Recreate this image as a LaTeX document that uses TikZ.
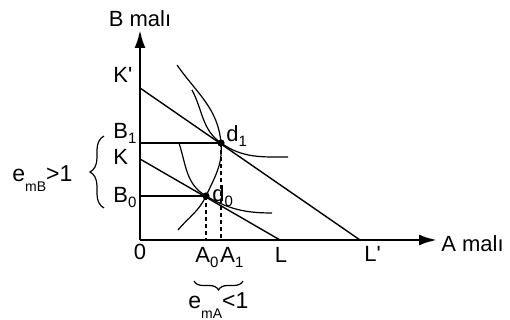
\documentclass[tikz,border=0pt]{standalone}
\usepackage{fontspec}
\setmainfont{Liberation Sans}
\usetikzlibrary{arrows.meta}
\usetikzlibrary{decorations.pathreplacing}
\newcommand{\sbs}[1]{\raisebox{-2.4pt}{\fontsize{7.5}{8}\selectfont #1}}
\newcommand{\esub}[1]{\raisebox{-4.6pt}{\fontsize{7}{8}\selectfont #1}}

\begin{document}
\begin{tikzpicture}[x=0.5pt,y=0.5pt,font=\fontsize{11}{12}\selectfont,
    axis/.style={line width=1.3pt,-{Latex[length=9pt,width=5.5pt]}},
    budget/.style={line width=0.7pt},
    level/.style={line width=1.1pt},
    curve/.style={line width=0.6pt},
    guide/.style={line width=0.6pt,dash pattern=on 2pt off 1.5pt},
    lab/.style={anchor=base west,inner sep=0pt},
    brc/.style={line width=0.6pt,decorate,decoration={brace,amplitude=#1}}]
    \useasboundingbox (0,0) rectangle (510,320);
    \coordinate (O) at (140,80);
    \coordinate (ytop) at (140,290);
    \coordinate (xend) at (437,80);
    \coordinate (Kp) at (140,232);
    \coordinate (K) at (140,161);
    \coordinate (Lp) at (360,80);
    \coordinate (L) at (280,80);
    \coordinate (B1) at (140,177);
    \coordinate (B0) at (140,124);
    \coordinate (d1) at (221,177);
    \coordinate (d0) at (206,124);
    \coordinate (A1) at (221,80);
    \coordinate (A0) at (206,80);
    \draw[axis] (O) -- (ytop);
    \draw[axis] (O) -- (xend);
    \node (ylab) at (140,301) {B malı};
    \node[lab] (xlab) at (441,68) {A malı};
    \draw[budget] (Kp) -- (Lp);
    \draw[budget] (K) -- (L);
    \draw[level] (B1) -- (d1);
    \draw[level] (B0) -- (d0);
    \draw[guide] (d1) -- (A1);
    \draw[guide] (d0) -- (A0);
    \draw[curve] (177,255) to[out=-55,in=95] (d1) to[out=-85,in=65] (d0) to[out=-115,in=50] (178,90);
    \draw[curve] (192,230) to[out=-62,in=145] (d1) to[out=-35,in=180] (288,163);
    \draw[curve] (179,177) to[out=-72,in=150] (d0) to[out=-30,in=180] (272,107);
    \fill (d1) circle (1.8pt);
    \fill (d0) circle (1.8pt);
    \node[lab] (d1lab) at (226,178) {d\sbs{1}};
    \node[lab] (d0lab) at (212,118) {d\sbs{0}};
    \node[lab] (Kplab) at (113,237) {K\textquotesingle};
    \node[lab] (B1lab) at (113,181) {B\sbs{1}};
    \node[lab] (Klab) at (113,155) {K};
    \node[lab] (B0lab) at (113,117) {B\sbs{0}};
    \node[anchor=base,inner sep=0pt] (Olab) at (140,60) {0};
    \node[lab] (A0lab) at (195,57) {A\sbs{0}};
    \node[lab] (A1lab) at (220,57) {A\sbs{1}};
    \node[anchor=base,inner sep=0pt] (Llab) at (281,57) {L};
    \node[lab] (Lplab) at (364,58) {L\textquotesingle};
    \draw[brc=7pt] (104,112) -- (104,184);
    \draw[brc=4.5pt] (243,39) -- (194,39);
    \node[lab,font=\fontsize{11.5}{12}\selectfont] (eB) at (12,138) {e\esub{mB}>1};
    \node[lab,font=\fontsize{11.5}{12}\selectfont] (eA) at (188,11) {e\esub{mA}<1};
\end{tikzpicture}
\end{document}
